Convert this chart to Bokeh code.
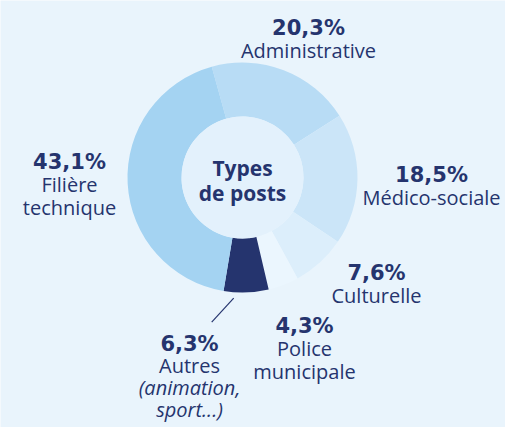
import math
from bokeh.plotting import figure
from bokeh.models import Range1d, ColumnDataSource
from bokeh.core.properties import value
from bokeh.embed import file_html
from bokeh.resources import INLINE

# ---- data ----
categories = ["Administrative", "Médico-sociale", "Culturelle", "Police municipale", "Autres", "Filière technique"]
shares = [20.3, 18.5, 7.6, 4.3, 6.3, 43.1]
pct_labels = ["20,3%", "18,5%", "7,6%", "4,3%", "6,3%", "43,1%"]
name_lines = [["Administrative"], ["Médico-sociale"], ["Culturelle"], ["Police", "municipale"],
              ["Autres", "(animation,", "sport...)"], ["Filière", "technique"]]
colors = ["#b8dcf5", "#cbe5f8", "#dceefb", "#ebf6fe", "#25346e", "#a4d3f2"]

W, H = 505, 427
BG = "#e9f4fc"
NAVY = "#25346e"
CX, CY = 242, H - 177
R_OUT, R_IN = 115, 61
START_DEG = 105.5

p = figure(width=W, height=H, x_range=Range1d(0, W), y_range=Range1d(0, H),
           x_axis_type=None, y_axis_type=None, toolbar_location=None,
           output_backend="svg", min_border=0)
p.outline_line_color = None
p.background_fill_color = BG
p.border_fill_color = BG
p.grid.visible = False

# wedges, clockwise from START_DEG
total = sum(shares)
starts, ends, mids = [], [], []
a = START_DEG
for s in shares:
    span = s / total * 360.0
    ends.append(math.radians(a))
    starts.append(math.radians(a - span))
    mids.append(a - span / 2)
    a -= span

src = ColumnDataSource(dict(start=starts, end=ends, color=colors, cat=categories))
p.annular_wedge(x=CX, y=CY, inner_radius=R_IN, outer_radius=R_OUT,
                start_angle="start", end_angle="end", color="color",
                direction="anticlock", source=src, line_color=None)
p.scatter(x=[CX], y=[CY], size=2 * R_IN, color="#e3f1fc", line_color=None)

# leader line for "Autres"
ia = categories.index("Autres")
m = math.radians(mids[ia] - 6)
x0 = CX + (R_OUT + 6) * math.cos(m)
y0 = CY + (R_OUT + 6) * math.sin(m)
p.line([x0, x0 - 22], [y0, y0 - 24], line_color=NAVY, line_width=1.2)

# label anchor positions (pixel coords from top) and line spacing
label_pos = [(308, 27), (431, 174), (376, 272), (304, 325), (189, 343), (69, 161)]
line_gaps = [23, 23, 23, 23, 22, 23]

pct_x, pct_y, txt_x, txt_y, txt, txt_style = [], [], [], [], [], []
for (lx, ly), gap, lines in zip(label_pos, line_gaps, name_lines):
    pct_x.append(lx)
    pct_y.append(H - ly)
    for k, t in enumerate(lines):
        txt_x.append(lx)
        txt_y.append(H - (ly + gap * (k + 1)))
        txt.append(t)
        txt_style.append("italic" if t.startswith("(") or t.startswith("sport") else "normal")

p.text(x=pct_x, y=pct_y, text=pct_labels, text_font=value("DejaVu Sans"),
       text_font_style="bold", text_font_size="21px", text_color=NAVY,
       text_align="center", text_baseline="alphabetic")
tsrc = ColumnDataSource(dict(x=txt_x, y=txt_y, t=txt, st=txt_style))
p.text(x="x", y="y", text="t", source=tsrc, text_font=value("Open Sans"),
       text_font_style="st", text_font_size="20px", text_color=NAVY,
       text_align="center", text_baseline="alphabetic")

# centre title
p.text(x=[CX, CX], y=[H - 167, H - 192], text=["Types", "de posts"],
       text_font=value("Open Sans"), text_font_style="bold", text_font_size="21px",
       text_color=NAVY, text_align="center", text_baseline="alphabetic")

open("out.html", "w").write(file_html(p, INLINE))
